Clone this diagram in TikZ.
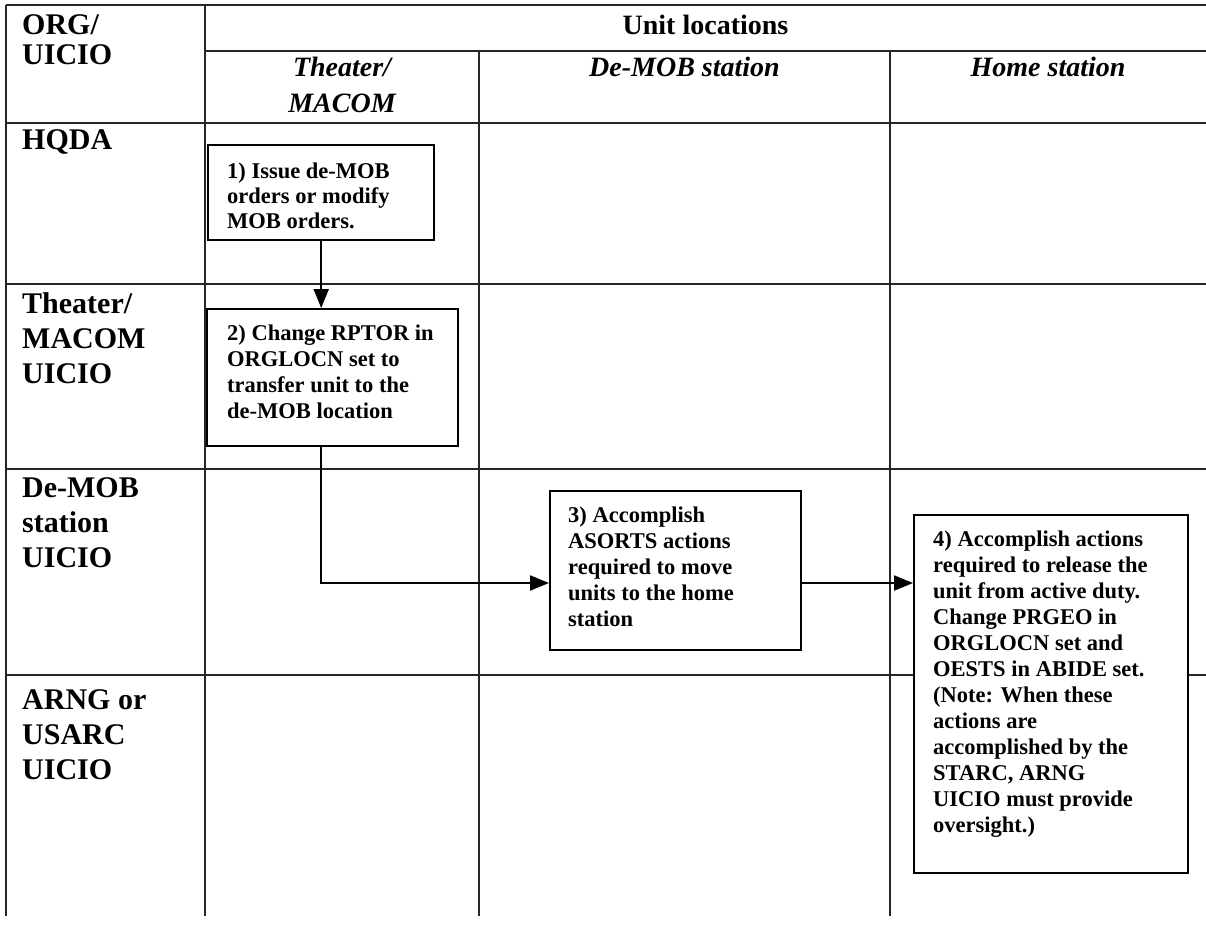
\documentclass[tikz,border=0pt]{standalone}
\usepackage{fontspec}
\setmainfont{Liberation Serif}
\usetikzlibrary{arrows.meta}
\begin{document}
\begin{tikzpicture}[x=1pt,y=-1pt,
  grid/.style={line width=1.1pt, black!85},
  stepbox/.style={draw, line width=2.4pt, fill=white, inner sep=0pt, anchor=north west},
  boxtext/.style={anchor=north west, inner sep=0pt, align=left, font=\fontsize{22.5}{26}\selectfont\bfseries},
  rowlabel/.style={anchor=north west, inner sep=0pt, align=left, font=\fontsize{30}{35}\selectfont\bfseries},
  colhead/.style={anchor=north, inner sep=0pt, align=center, font=\fontsize{28}{36}\selectfont\bfseries\itshape},
  flow/.style={line width=2pt, -{Triangle[length=19pt,width=15pt]}}
]
\useasboundingbox (0,0) rectangle (1206,926);
% grid
\draw[grid] (6,5) -- (1206,5);
\draw[grid] (205,51) -- (1206,51);
\draw[grid] (6,123) -- (1206,123);
\draw[grid] (6,284) -- (1206,284);
\draw[grid] (6,469) -- (1206,469);
\draw[grid] (6,675) -- (1206,675);
\draw[grid] (6,5) -- (6,916);
\draw[grid] (205,5) -- (205,916);
\draw[grid] (479,51) -- (479,916);
\draw[grid] (890,51) -- (890,916);
% headers
\node[rowlabel, font=\fontsize{30}{30}\selectfont\bfseries] (hOrg) at (22,14.5) {ORG/\\UICIO};
\node[anchor=north, inner sep=0pt, font=\fontsize{28}{36}\selectfont\bfseries] (hUnit) at (705.5,15) {Unit locations};
\node[colhead] (hTh) at (342,57) {Theater/\\MACOM};
\node[colhead] (hDe) at (684.5,57) {De-MOB station};
\node[colhead] (hHo) at (1048,57) {Home station};
% row labels
\node[rowlabel] (rHQ) at (22,129.5) {HQDA};
\node[rowlabel] (rTh) at (22,292.5) {Theater/\\MACOM\\UICIO};
\node[rowlabel] (rDe) at (22,477.5) {De-MOB\\station\\UICIO};
\node[rowlabel] (rAr) at (22,689.5) {ARNG or\\USARC\\UICIO};
% boxes
\node[stepbox, minimum width=226pt, minimum height=95pt] (b1) at (207,144) {};
\node[stepbox, minimum width=251pt, minimum height=137pt] (b2) at (206,308) {};
\node[stepbox, minimum width=251pt, minimum height=159pt] (b3) at (549,490) {};
\node[stepbox, minimum width=274pt, minimum height=358pt] (b4) at (913,514) {};
\node[boxtext, font=\fontsize{22.5}{25}\selectfont\bfseries] (t1) at (227,163) {1) Issue de-MOB\\orders or modify\\MOB orders.};
\node[boxtext] (t2) at (227,325) {2) Change RPTOR in\\ORGLOCN set to\\transfer unit to the\\de-MOB location};
\node[boxtext] (t3) at (568,507) {3) Accomplish\\ASORTS actions\\required to move\\units to the home\\station};
\node[boxtext] (t4) at (933,531) {4) Accomplish actions\\required to release the\\unit from active duty.\\Change PRGEO in\\ORGLOCN set and\\OESTS in ABIDE set.\\(Note: When these\\actions are\\accomplished by the\\STARC, ARNG\\UICIO must provide\\oversight.)};
% connectors
\coordinate (ay) at (0,583);
\draw[flow] (b1.south) -- (b1.south |- b2.north);
\draw[flow] (b1.south |- b2.south) -- (b1.south |- ay) -- (b3.west |- ay);
\draw[flow] (b3.east |- ay) -- (b4.west |- ay);
\end{tikzpicture}
\end{document}
